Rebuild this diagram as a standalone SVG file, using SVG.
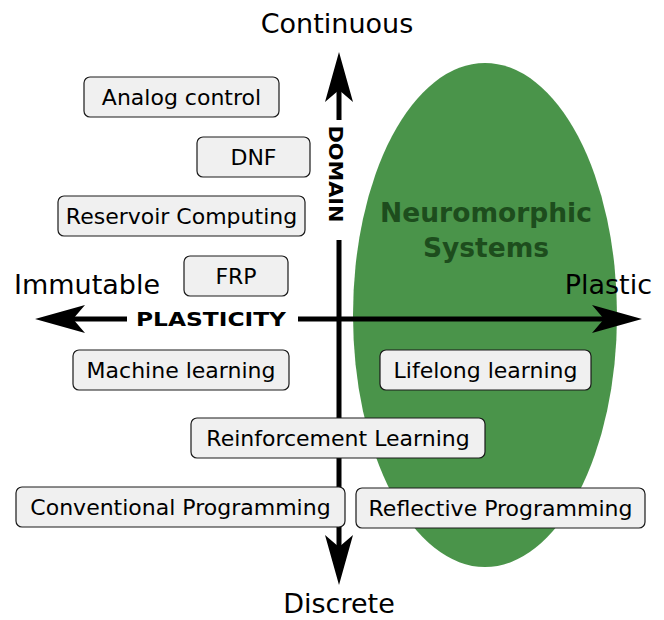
<svg xmlns="http://www.w3.org/2000/svg" width="664" height="620" viewBox="0 0 664 620">
<style>
.box{fill:#f0f0f0;stroke:#1a1a1a;stroke-width:1.2}
.lbl{font-family:"DejaVu Sans",sans-serif;font-size:22px;fill:#000;text-anchor:middle}
.ax{font-family:"DejaVu Sans",sans-serif;font-size:27px;fill:#000}
.axname{font-family:"DejaVu Sans",sans-serif;font-weight:bold;font-size:20px;fill:#000}
.axis{stroke:#000;stroke-width:5;fill:none;marker-end:url(#stealth)}
.neuro{font-family:"DejaVu Sans",sans-serif;font-weight:bold;font-size:26.5px;fill:#1d4d1d;text-anchor:middle}
</style>
<defs>
<marker id="stealth" viewBox="0 -15 50 30" markerWidth="50" markerHeight="30" refX="12" refY="0" orient="auto" markerUnits="userSpaceOnUse">
<path d="M50,0 L0,-14 L12,0 L0,14 Z" fill="#000"/>
</marker>
</defs>
<rect width="664" height="620" fill="#fff"/>
<g id="neuromorphic">
<ellipse cx="485" cy="315" rx="132" ry="252" fill="#4a944a"/>
<text class="neuro" x="486" y="222">Neuromorphic</text>
<text class="neuro" x="486" y="257">Systems</text>
</g>
<g id="connectors">
<line class="axis" x1="339" y1="120" x2="339" y2="90"/>
<line class="axis" x1="339" y1="240" x2="339" y2="547"/>
<line class="axis" x1="127" y1="319" x2="73" y2="319"/>
<line class="axis" x1="298" y1="319" x2="604" y2="319"/>
<text class="axname" x="329" y="174" text-anchor="middle" textLength="97" lengthAdjust="spacingAndGlyphs" transform="rotate(90 329 174)">DOMAIN</text>
<text class="axname" x="211" y="326" text-anchor="middle" textLength="150" lengthAdjust="spacingAndGlyphs">PLASTICITY</text>
</g>
<g id="labels">
<text class="ax" x="337" y="33" text-anchor="middle">Continuous</text>
<text class="ax" x="339" y="613" text-anchor="middle">Discrete</text>
<text class="ax" x="14" y="294">Immutable</text>
<text class="ax" x="652" y="294" text-anchor="end">Plastic</text>
</g>
<g id="analog-control"><rect class="box" x="84" y="77" width="195" height="40" rx="6"/><text class="lbl" x="181.5" y="105">Analog control</text></g>
<g id="dnf"><rect class="box" x="197" y="137" width="113" height="40" rx="6"/><text class="lbl" x="253.5" y="165">DNF</text></g>
<g id="reservoir-computing"><rect class="box" x="58" y="196" width="247" height="40" rx="6"/><text class="lbl" x="181.5" y="224">Reservoir Computing</text></g>
<g id="frp"><rect class="box" x="184" y="256" width="104" height="40" rx="6"/><text class="lbl" x="236" y="284">FRP</text></g>
<g id="machine-learning"><rect class="box" x="73" y="350" width="216" height="40" rx="6"/><text class="lbl" x="181" y="378">Machine learning</text></g>
<g id="lifelong-learning"><rect class="box" x="380" y="350" width="211" height="40" rx="6"/><text class="lbl" x="485.5" y="378">Lifelong learning</text></g>
<g id="reinforcement-learning"><rect class="box" x="191" y="418" width="294" height="40" rx="6"/><text class="lbl" x="338" y="446">Reinforcement Learning</text></g>
<g id="conventional-programming"><rect class="box" x="16" y="487" width="329" height="40" rx="6"/><text class="lbl" x="180.5" y="515">Conventional Programming</text></g>
<g id="reflective-programming"><rect class="box" x="356" y="488" width="289" height="40" rx="6"/><text class="lbl" x="500.5" y="516">Reflective Programming</text></g>
</svg>
